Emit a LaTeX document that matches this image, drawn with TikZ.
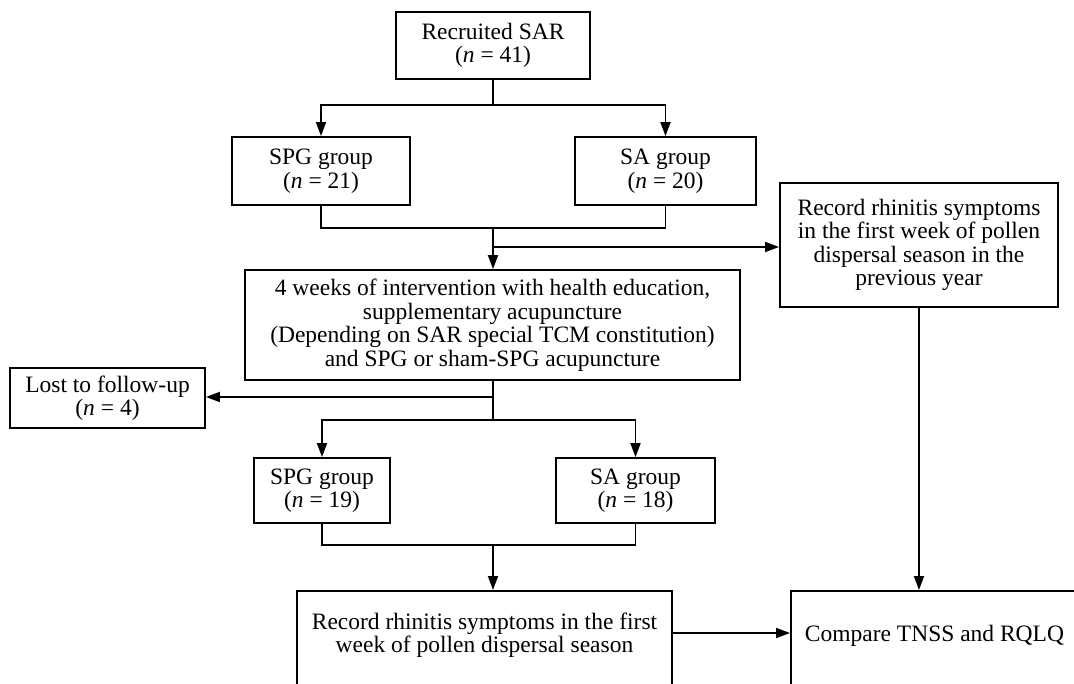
\documentclass[tikz,border=0pt]{standalone}
\usepackage{fontspec}
\setmainfont{Liberation Serif}
\usetikzlibrary{arrows.meta}
\begin{document}
\begin{tikzpicture}[x=1pt, y=-1pt,
    box/.style={draw, line width=1.8pt, align=center, inner sep=0pt,
        font=\fontsize{23.5}{23.5}\selectfont},
    arrow/.style={line width=1.8pt, -{Triangle[length=14pt,width=10pt]}},
    link/.style={line width=1.8pt}]

    % Fix the page size
    \useasboundingbox (0,0) rectangle (1074,684);

    % Draw the boxes
    \node[box, minimum width=194pt, minimum height=67pt] (recruit) at (493,45.5)
        {Recruited SAR\\(\textit{n} = 41)};
    \node[box, minimum width=178pt, minimum height=68pt] (spgA) at (321,171)
        {SPG group\\(\textit{n} = 21)};
    \node[box, minimum width=181pt, minimum height=68pt] (saA) at (665.5,171)
        {SA group\\(\textit{n} = 20)};
    \node[box, minimum width=278pt, minimum height=124pt] (prevyear) at (919,245)
        {Record rhinitis symptoms\\in the first week of pollen\\dispersal season in the\\previous year};
    \node[box, minimum width=495pt, minimum height=110pt] (interv) at (492.5,325)
        {4 weeks of intervention with health education,\\supplementary acupuncture\\(Depending on SAR special TCM constitution)\\and SPG or sham-SPG acupuncture};
    \node[box, minimum width=195pt, minimum height=60pt] (lost) at (107.5,398)
        {Lost to follow-up\\(\textit{n} = 4)};
    \node[box, minimum width=136pt, minimum height=65pt] (spgB) at (322,490.5)
        {SPG group\\(\textit{n} = 19)};
    \node[box, minimum width=159pt, minimum height=65pt] (saB) at (635.5,490.5)
        {SA group\\(\textit{n} = 18)};
    \node[box, anchor=north, minimum width=375pt, inner ysep=22pt, text depth=25pt]
        (thisyear) at (484.5,590)
        {Record rhinitis symptoms in the first\\week of pollen dispersal season};
    \node[box, anchor=north west, inner xsep=14pt, inner ysep=34pt, text depth=20pt]
        (compare) at (790,590)
        {Compare TNSS and RQLQ};

    % Branch and join points
    \coordinate (splitA) at (493,105);
    \coordinate (joinA) at (493,228);
    \coordinate (sideA) at (493,247);
    \coordinate (splitB) at (493,397);
    \coordinate (splitC) at (493,420);
    \coordinate (joinB) at (493,545);
    \coordinate (rowC) at (0,633);

    % Randomisation
    \draw[link] (recruit.south) -- (splitA);
    \draw[arrow] (splitA) -| (spgA.north);
    \draw[arrow] (splitA) -| (saA.north);

    % Into the intervention
    \draw[link] (spgA.south) |- (joinA) -| (saA.south);
    \draw[arrow] (joinA) -- (joinA |- interv.north);
    \draw[arrow] (sideA) -- (sideA -| prevyear.west);

    % After the intervention
    \draw[link] (splitB |- interv.south) -- (splitC);
    \draw[arrow] (splitB) -- (splitB -| lost.east);
    \draw[arrow] (splitC) -| (spgB.north);
    \draw[arrow] (splitC) -| (saB.north);

    % Final records
    \draw[link] (spgB.south) |- (joinB) -| (saB.south);
    \draw[arrow] (joinB) -- (joinB |- thisyear.north);
    \draw[arrow] (thisyear.east |- rowC) -- (compare.west |- rowC);
    \draw[arrow] (prevyear.south) -- (prevyear.south |- compare.north);

\end{tikzpicture}
\end{document}
